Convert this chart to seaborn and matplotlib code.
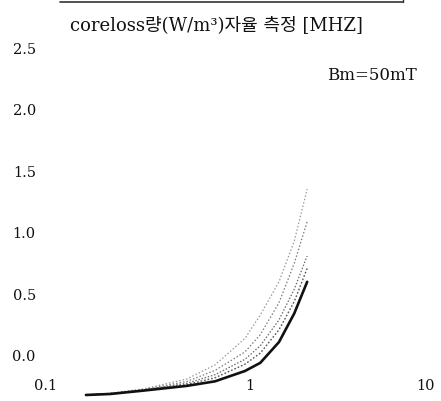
import matplotlib
matplotlib.use("Agg")
import matplotlib.pyplot as plt
from matplotlib.lines import Line2D
from matplotlib.transforms import ScaledTranslation
import seaborn as sns
import pandas as pd

# frequency [MHz] and core loss curves
freq_mhz = [0.15, 0.2, 0.3, 0.5, 0.7, 1.0, 1.2, 1.5, 1.8, 2.1]
loss_a = [0.0, 0.014, 0.05, 0.13, 0.245, 0.46, 0.65, 0.92, 1.25, 1.675]
loss_b = [0.0, 0.012, 0.045, 0.11, 0.2, 0.35, 0.49, 0.75, 1.07, 1.41]
loss_c = [0.0, 0.01, 0.042, 0.095, 0.165, 0.29, 0.40, 0.61, 0.86, 1.13]
loss_d = [0.0, 0.01, 0.04, 0.085, 0.14, 0.25, 0.34, 0.53, 0.76, 1.03]
loss_e = [0.0, 0.008, 0.036, 0.074, 0.111, 0.195, 0.261, 0.43, 0.663, 0.92]
series_names = ["a", "b", "c", "d", "e"]

y_ticks = [0.0, 0.5, 1.0, 1.5, 2.0, 2.5]
y_labels = ["0.0", "0.5", "1.0", "1.5", "2.0", "2.5"]
x_ticks = [0.1, 1, 10]
x_labels = ["0.1", "1", "10"]
title = "coreloss량(W/m³)자율 측정 [MHZ]"
note = "Bm=50mT"

df = pd.concat([
    pd.DataFrame({"freq": freq_mhz, "loss": vals, "series": name})
    for name, vals in zip(series_names, [loss_a, loss_b, loss_c, loss_d, loss_e])
])

sns.set_style("white")
plt.rcParams["font.family"] = ["DejaVu Serif", "Noto Sans CJK KR"]

W, H = 441, 402
fig = plt.figure(figsize=(W / 100, H / 100), dpi=100)
ax = fig.add_axes([40 / W, 0, 401 / W, 362 / H])

styles = {
    "a": dict(color="#9a9a9a", linestyle=(0, (1.2, 1.6)), linewidth=0.9),
    "b": dict(color="#7a7a7a", linestyle=(0, (1.2, 1.6)), linewidth=0.9),
    "c": dict(color="#6a6a6a", linestyle=(0, (1.2, 1.4)), linewidth=0.9),
    "d": dict(color="#555555", linestyle=(0, (1.2, 1.4)), linewidth=1.0),
    "e": dict(color="#111111", linestyle="-", linewidth=1.9),
}
for name in series_names:
    sns.lineplot(data=df[df["series"] == name], x="freq", y="loss", ax=ax,
                 legend=False, **styles[name])

ax.set_xscale("log")
ax.set_xlim(10 ** -1.062, 10 ** 1.0155)
ax.set_ylim(-0.049, 2.894)
ax.set_xticks(x_ticks)
ax.set_xticklabels(x_labels)
ax.minorticks_off()
ax.set_yticks(y_ticks)
ax.set_yticklabels(y_labels)
ax.set_xlabel("")
ax.set_ylabel("")
ax.tick_params(axis="x", length=0, pad=-16.5, labelsize=10.5, colors="#111")
ax.tick_params(axis="y", length=0, pad=3, labelsize=10.5, colors="#111")
for s in ax.spines.values():
    s.set_visible(False)
ax.patch.set_alpha(0)

# the printed labels in the scan sit off their tick values
shift = ScaledTranslation(0, 0.40, fig.dpi_scale_trans)
for lbl in ax.get_yticklabels():
    lbl.set_transform(lbl.get_transform() + shift)
x_shift_px = [-6, 5, -13]
for lbl, dx in zip(ax.get_xticklabels(), x_shift_px):
    lbl.set_transform(lbl.get_transform()
                      + ScaledTranslation(dx / 100, 0, fig.dpi_scale_trans))

fig.text(216 / W, 1 - 25 / H, title, ha="center", va="center", fontsize=13,
         color="#111")
fig.text(372 / W, 1 - 75 / H, note, ha="center", va="center", fontsize=12,
         color="#111")

# bottom edge of the box above the chart
fig.add_artist(Line2D([60 / W, 403 / W], [1 - 3 / H, 1 - 3 / H],
                      transform=fig.transFigure, color="#333", lw=1.2))
fig.add_artist(Line2D([403 / W, 403 / W], [1 - 3 / H, 1.0],
                      transform=fig.transFigure, color="#333", lw=1.0))

fig.savefig("out.png", dpi=100, facecolor="white")
